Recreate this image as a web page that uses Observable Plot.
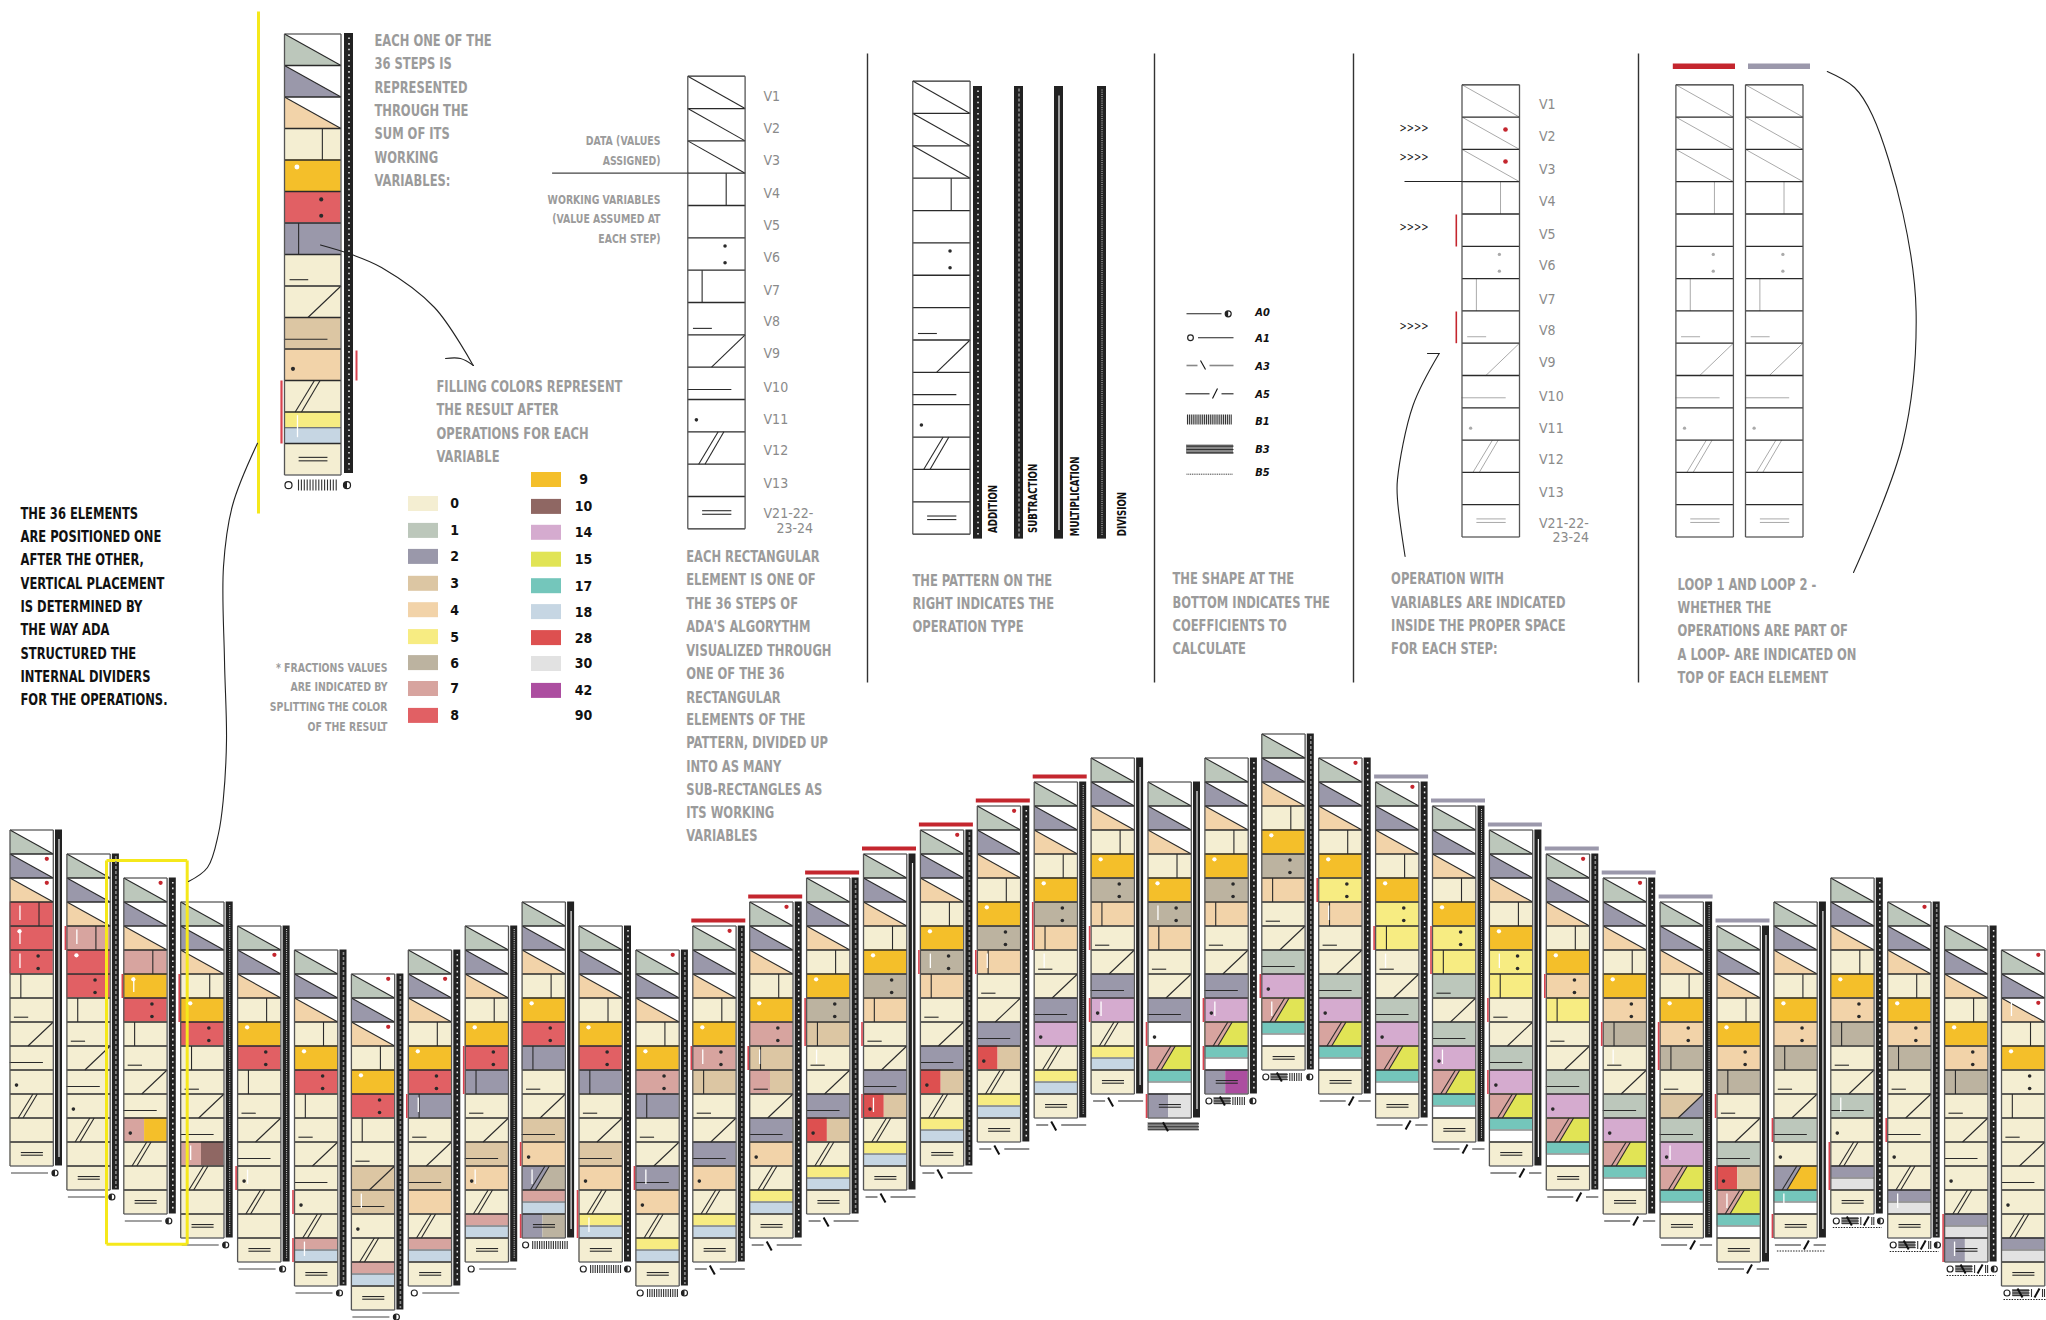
<!DOCTYPE html>
<html><head><meta charset="utf-8">
<script src="https://cdn.jsdelivr.net/npm/d3@7"></script>
<script src="https://cdn.jsdelivr.net/npm/@observablehq/plot@0.6"></script>
<style>html,body{margin:0;padding:0;background:#fff}svg{display:block}</style>
</head><body><div id="chart"></div>
<script>
// ---------- data ----------
const palette = {0:"#f4eed2",1:"#bcc7bb",2:"#9a98aa",3:"#dcc6a3",4:"#f2d3a9",5:"#f7ec82",6:"#bcb3a0",7:"#d7a49f",8:"#e16064",9:"#f4bf2a",10:"#8f6763",14:"#d5abcf",15:"#e1e455",17:"#74c6bb",18:"#c6d6e3",28:"#dd5050",30:"#e2e2e2",42:"#ac4ea0",90:"#ffffff"};
const rowOffset = [0,1,2,3,4,5,6,5,4,3,4,5,4,3,2,1,0,-1,-2,-3,-2,-3,-4,-3,-2,-1,0,1,2,3,4,3,2,3,4,5];
const T=[7,18],Y=[5,18],C=[17,90],P=[7,15],G=[2,30],R=[28,3];
const stepValues = [
[1,2,4,8,8,8,0,0,0,0,0,0,0,0],
[1,2,4,7,8,8,0,0,0,0,0,0,0,0],
[1,2,4,7,9,8,0,0,0,0,[7,9],0,0,0],
[1,2,4,0,9,8,0,0,0,0,[7,10],0,0,0],
[1,2,4,0,9,8,0,0,0,0,0,0,0,0],
[1,2,4,0,9,8,0,0,0,0,0,0,T,0],
[1,2,4,0,9,8,0,0,3,3,0,0,T,0],
[1,2,4,0,9,8,2,0,0,3,4,0,T,0],
[1,2,4,0,9,8,2,0,0,3,4,0,T,0],
[1,2,4,0,9,8,2,0,0,3,4,[2,6],T,[2,6]],
[1,2,4,0,9,8,2,0,0,3,4,0,Y,0],
[1,2,4,0,9,7,2,0,0,2,4,0,Y,0],
[1,2,4,0,9,7,3,0,0,2,4,0,Y,0],
[1,2,4,0,9,7,3,[7,3],0,2,4,0,Y,0],
[1,2,4,0,9,6,3,0,0,2,R,0,Y,0],
[1,2,4,0,9,6,4,0,0,2,R,0,Y,0],
[1,2,4,0,9,6,4,0,0,2,R,0,Y,0],
[1,2,4,0,9,6,4,0,0,2,R,0,Y,0],
[1,2,4,0,9,6,4,0,0,2,14,0,Y,0],
[1,2,4,0,9,6,4,0,0,2,14,0,Y,0],
[1,2,4,0,9,6,4,0,0,2,90,P,C,G],
[1,2,4,0,9,6,4,0,0,2,14,P,C,[2,42]],
[1,2,4,0,9,6,4,0,0,1,14,P,C,0],
[1,2,4,0,9,5,4,0,0,1,14,P,C,0],
[1,2,4,0,9,5,5,0,0,1,14,P,C,0],
[1,2,4,0,9,5,5,1,0,1,14,P,C,0],
[1,2,4,0,9,5,5,0,0,1,14,P,C,0],
[1,2,4,0,9,4,5,0,0,1,14,P,C,0],
[1,2,4,0,9,4,6,0,0,1,14,P,C,0],
[1,2,4,0,9,4,6,0,[3,2],1,14,P,C,0],
[1,2,4,0,9,4,6,0,0,1,R,P,C,0],
[1,2,4,0,9,4,6,0,0,1,0,[2,9],C,0],
[1,2,4,0,9,4,6,0,0,1,0,0,G,0],
[1,2,4,0,9,4,6,0,0,0,0,0,G,0],
[1,2,4,0,9,4,6,0,0,0,0,0,G,G],
[1,2,4,0,9,0,0,0,0,0,0,0,G,0]];
const operations = ["mul","sub","add","div","div","sub","sub","add","div","mul","add","sub","sub","add","sub","mul","sub","add","div","mul","mul","add","sub","add","add","div","mul","sub","add","div","mul","mul","add","sub","add","add"];
const coefficients = ["A0","A0","A0","A0","A0","A0","A0","A1","A1","A1B1","A1B1A0","A1B1A0","A3","A3","A3","A3","A3","A3","A3","A3","B3A3","ALL1","ALL1","A5","A5","A5","A5","A5","A5","A5","A5","A5B5","ALL2","ALL2","ALL2","ALL2"];
const redDotRows = {0:[1,2],2:[0],4:[1],6:[0,2],7:[1],11:[0],12:[0],13:[0],16:[0],17:[0],23:[0],24:[0],27:[0],28:[0],33:[0],35:[0,2]};
const whiteTickRows = {0:[3,4,5],1:[3],2:[4],3:[10],4:[10],5:[12],6:[9],7:[6],8:[10],9:[11],10:[12],11:[9],12:[5],13:[6],14:[7],15:[10],16:[5],17:[6],18:[7],19:[10],20:[5],21:[10],22:[11],23:[6],24:[7],25:[10],26:[5],28:[7],29:[10],30:[11],31:[12],32:[9],33:[12],34:[13],35:[2]};
const redMarkRows = {1:[3],2:[4],3:[3,4],4:[10],5:[10,12],7:[6],8:[5,6],9:[10,13],10:[11,12],11:[9],12:[5],13:[6],14:[5,6],15:[7,10],16:[5],17:[6],18:[5,6],19:[7,10],20:[10,13],21:[10,12],22:[10],23:[5],24:[6],25:[5,6],26:[7,10],27:[5],28:[6],29:[5,6],30:[7,10],31:[9,13],32:[11,12],33:[9],34:[12,13]};
const noLowDot = [3,7];
const loopOne = [12,13,14,15,16,17,18];
const loopTwo = [24,25,26,27,28,29,30];
const legendLeft = [0,1,2,3,4,5,6,7,8];
const legendRight = [9,10,14,15,17,18,28,30,42];
const variableLabels = ["V1","V2","V3","V4","V5","V6","V7","V8","V9","V10","V11","V12","V13","V21-22-"];
const coefLabels = ["A0","A1","A3","A5","B1","B3","B5"];

// ---------- text ----------
const textEach = ["EACH ONE OF THE","36 STEPS IS","REPRESENTED","THROUGH THE","SUM OF ITS","WORKING","VARIABLES:"];
const textFilling = ["FILLING COLORS REPRESENT","THE RESULT AFTER","OPERATIONS FOR EACH","VARIABLE"];
const textElements = ["THE 36 ELEMENTS","ARE POSITIONED ONE","AFTER THE OTHER,","VERTICAL PLACEMENT","IS DETERMINED BY","THE WAY ADA","STRUCTURED THE","INTERNAL DIVIDERS","FOR THE OPERATIONS."];
const textFractions = ["* FRACTIONS VALUES","ARE INDICATED BY","SPLITTING THE COLOR","OF THE RESULT"];
const textData = ["DATA (VALUES","ASSIGNED)"];
const textWorking = ["WORKING VARIABLES","(VALUE ASSUMED AT","EACH STEP)"];
const textRect = ["EACH RECTANGULAR","ELEMENT IS ONE OF","THE 36 STEPS OF","ADA'S ALGORYTHM","VISUALIZED THROUGH","ONE OF THE 36","RECTANGULAR","ELEMENTS OF THE","PATTERN, DIVIDED UP","INTO AS MANY","SUB-RECTANGLES AS","ITS WORKING","VARIABLES"];
const textPattern = ["THE PATTERN ON THE","RIGHT INDICATES THE","OPERATION TYPE"];
const textShape = ["THE SHAPE AT THE","BOTTOM INDICATES THE","COEFFICIENTS TO","CALCULATE"];
const textOperation = ["OPERATION WITH","VARIABLES ARE INDICATED","INSIDE THE PROPER SPACE","FOR EACH STEP:"];
const textLoop = ["LOOP 1 AND LOOP 2 -","WHETHER THE","OPERATIONS ARE PART OF","A LOOP- ARE INDICATED ON","TOP OF EACH ELEMENT"];
const opLabels = ["ADDITION","SUBTRACTION","MULTIPLICATION","DIVISION"];

// ---------- layout collections ----------
const rects=[],polys=[],links=[],dots=[],rings=[],halves=[];
let pid=0;
const rect=(x1,y1,x2,y2,fill)=>rects.push({x1,y1,x2,y2,fill});
const poly=(pts,fill)=>{pid++;pts.forEach(p=>polys.push({x:p[0],y:p[1],id:pid,fill}));};
const line=(x1,y1,x2,y2,stroke="#222",sw=1.1,dash="none")=>links.push({x1,y1,x2,y2,stroke,sw,dash});
const dot=(x,y,fill,r)=>dots.push({x,y,fill,r});

function element(x,top,w,h,vals,o={}){
  const ink=o.ink||"#2a2a2a", sw=o.sw||1.1, skip=o.skip||[], dr=o.dotR||w/30;
  const X=f=>x+f*w;
  vals.forEach((v,r)=>{
    const y=top+r*h, Yf=f=>y+f*h;
    if(Array.isArray(v)){
      const [a,b]=v;
      if(r===12){rect(x,y,x+w,y+h/2,palette[a]);rect(x,y+h/2,x+w,y+h,palette[b]);line(x,y+h/2,x+w,y+h/2,"#555",1);}
      else if(r===11){rect(x,y,x+w,y+h,palette[b]);poly([[x,y],[X(.63),y],[X(.3),y+h],[x,y+h]],palette[a]);}
      else if(r===8){rect(x,y,x+w,y+h,palette[b]);poly([[x,y],[x+w,y],[X(.415),y+h],[x,y+h]],palette[a]);}
      else {rect(x,y,X(.48),y+h,palette[a]);rect(X(.48),y,x+w,y+h,palette[b]);}
    } else if(r<3){
      rect(x,y,x+w,y+h,"#fff");
      poly([[x,y],[x+w,y+h],[x,y+h]],palette[v]);
    } else rect(x,y,x+w,y+h,palette[v]);
    if(skip.includes(r)) return;
    if(r<3) line(x,y,x+w,y+h,ink,sw);
    if(r===3) line(X(.67),y,X(.67),y+h,ink,sw);
    if(r===4&&o.dots!==false) dot(X(.22),Yf(.22),"#fff",w/21);
    if(r===5){dot(X(.65),Yf(.25),ink,dr);dot(X(.65),Yf(.77),ink,dr);}
    if(r===6) line(X(.25),y,X(.25),y+h,ink,sw);
    if(r===7) line(X(.09),Yf(.8),X(.42),Yf(.8),ink,sw);
    if(r===8) line(X(.415),y+h,x+w,y,ink,sw);
    if(r===9) line(X(-.01),Yf(.69),X(.76),Yf(.69),ink,sw);
    if(r===10&&!o.noLow) dot(X(.15),Yf(.63),ink,dr);
    if(r===11){line(X(.19),y+h,X(.53),y,ink,sw);line(X(.3),y+h,X(.63),y,ink,sw);}
    if(r===13){line(X(.25),Yf(.44),X(.76),Yf(.44),ink,sw);line(X(.25),Yf(.55),X(.76),Yf(.55),ink,sw);}
  });
  const bottom=top+vals.length*h;
  for(let r=0;r<=vals.length;r++) line(x,top+r*h,x+w,top+r*h,"#2a2a2a",r===0||r===vals.length?1.2:1.3);
  line(x,top,x,bottom,"#555",1.3);line(x+w,top,x+w,bottom,"#555",1.3);
}
function opBar(x1,x2,y1,y2,op){
  rect(x1,y1,x2,y2,"#222");
  const c=(x1+x2)/2;
  if(op==="add") line(c,y1+4,c,y2-4,"#eee",1.5,"1.6,4");
  if(op==="sub") line(c,y1+2,c,y2-2,"#8a8a8a",1.6,"3,2");
  if(op==="mul") line(c,y1+9,c,y2-9,"#eee",1.2);
  if(op==="div") line(c,y1+3,c,y2-3,"#ddd",1,"1,1.2");
}
const halfCircle=(x,y,r=4)=>{rings.push({x,y,r});halves.push({x,y,r});};
function stripes(x1,x2,y1,y2,step=2.3){for(let x=x1;x<=x2;x+=step) line(x,y1,x,y2,"#333",1.1);}
function thick(x1,x2,y,h=8){rect(x1,y-h/2,x2,y+h/2,"#888");[-3,0,3].forEach(d=>line(x1,y+d*h/8,x2,y+d*h/8,"#333",1.1));}
const slashBack=(a,y)=>line(a,y-4.5,a+5,y+4.5,"#111",2);
const slashFwd=(a,y)=>line(a+5,y-4.5,a,y+4.5,"#111",2);
function coefficient(x,b,c){
  const y=b+7;
  const has=s=>c===s;
  if(has("A0")){line(x+1,y,x+38,y,"#444",1.2);halfCircle(x+45,y);}
  if(has("A1")){rings.push({x:x+6,y,r:4});line(x+14,y,x+51,y,"#444",1.2);}
  if(has("A1B1")){rings.push({x:x+3.5,y,r:4});stripes(x+10.6,x+46,y-4,y+4);}
  if(has("A1B1A0")){rings.push({x:x+4.3,y,r:4});stripes(x+11.6,x+42.3,y-4,y+4);halfCircle(x+48.6,y);}
  if(has("A3")){line(x+2,y,x+14,y,"#444",1.2);slashBack(x+17,y+1);line(x+27,y,x+52,y,"#444",1.2);}
  if(has("B3A3")){thick(x,x+51,b+8.7,8);slashBack(x+15,b+8.7);}
  if(has("ALL1")){rings.push({x:x+4,y,r:4});thick(x+9,x+26,y,7);slashBack(x+15,y);stripes(x+28,x+41,y-4,y+4);halfCircle(x+48,y);}
  if(has("A5")||has("A5B5")){line(x+1,y,x+27,y,"#444",1.2);slashFwd(x+30,y);line(x+39.7,y,x+52,y,"#444",1.2);}
  if(has("A5B5")) line(x+3,b+13,x+51,b+13,"#222",1,"1.5,1.2");
  if(has("ALL2")){rings.push({x:x+5.5,y,r:4});thick(x+11,x+28,y,7);slashBack(x+16,y);line(x+30,y-4,x+30,y+4,"#333",1.1);slashFwd(x+33,y);line(x+41,y-4,x+41,y+4,"#333",1.1);line(x+43,y-4,x+43,y+4,"#333",1.1);halfCircle(x+49.7,y);line(x+2,y+6.5,x+51,y+6.5,"#222",1,"1.5,1.2");}
}

// ---------- main pattern ----------
const colX=i=>9.5+56.9*i, colTop=i=>829.5+24*rowOffset[i], W=43.3, H=24;
stepValues.forEach((vals,i)=>{
  const x=colX(i), top=colTop(i), bottom=top+14*H;
  element(x,top,W,H,vals,{noLow:noLowDot.includes(i)});
  opBar(x+45.5,x+52.5,top,bottom,operations[i]);
  coefficient(x,bottom,coefficients[i]);
  (redDotRows[i]||[]).forEach(r=>dot(x+.85*W,top+(r+.2)*H,"#c4262e",2));
  (whiteTickRows[i]||[]).forEach(r=>line(x+.23*W,top+(r+.15)*H,x+.23*W,top+(r+.75)*H,"#fff",1.3));
  (redMarkRows[i]||[]).forEach(r=>line(x-1.5,top+r*H,x-1.5,top+(r+1)*H,"#d9434f",1.6));
});
loopOne.forEach(i=>rect(colX(i)-1,colTop(i)-7,colX(i)+53,colTop(i)-3,"#c4262e"));
loopTwo.forEach(i=>rect(colX(i)-1,colTop(i)-7,colX(i)+53,colTop(i)-3,"#9b98ab"));

// ---------- top featured element ----------
const fx=284,fy=33.5,fw=56.5,fh=31.5;
element(fx,fy,fw,fh,stepValues[10],{});
opBar(344,353,33,473,"add");
[11,12].forEach(r=>line(281,fy+r*fh,281,fy+(r+1)*fh,"#d9434f",2.2));
line(356,350,356,380,"#d9434f",2);
line(fx+.23*fw,fy+12.1*fh,fx+.23*fw,fy+12.8*fh,"#fff",1.3);
rings.push({x:288,y:484.7,r:5.5});stripes(298,338,479,490,2.9);halfCircle(346.5,484.7,5.5);

// ---------- white diagrams ----------
const blank=Array(14).fill(90);
element(687.3,75.7,57.3,32.33,blank,{dots:false,dotR:1.4});
element(912.3,80.6,57.3,32.36,blank,{dots:false,skip:[6],dotR:1.4});
["add","sub","mul","div"].forEach((op,i)=>opBar([973,1014,1054,1097][i],[982,1023,1063,1106][i],86,538.6,op));
[1461.5,1675.4,1745].forEach(x=>element(x,84.3,57.5,32.3,blank,{dots:false,ink:"#aaa",sw:1,dotR:1.2}));
line(1455.8,214,1455.8,246,"#c4262e",1.6);line(1455.8,311,1455.8,342.7,"#c4262e",1.6);
dot(1505,129,"#c4262e",2.4);dot(1505,161,"#c4262e",2.4);
rect(1672.8,63.5,1735,69,"#c4262e");rect(1748,63.5,1810,69,"#9b98ab");
// leader lines
line(551.6,172.6,688,172.6,"#444",1.2);
line(1404,181,1462,181,"#222",1.1);
// separators
[867,1154,1353,1638].forEach(x=>line(x,53,x,682,"#333",1.4));
line(258,11,258,513,"#f5e81b",3);
[[106,860,186.7,860],[186.7,860,186.7,1243.7],[186.7,1243.7,106,1243.7],[106,1243.7,106,860]].forEach(a=>line(a[0],a[1],a[2],a[3],"#f5e81b",3));

// ---------- coefficient legend ----------
line(1186,313.3,1221,313.3,"#222",1.1);halfCircle(1227.7,313.3,4);
rings.push({x:1190,y:337.3,r:3.6});line(1197.5,337.3,1233,337.3,"#222",1.1);
line(1186,365,1197,365,"#888",1.6);line(1200,360,1205,369,"#111",1.1);line(1209,365,1233,365,"#888",1.6);
line(1185,393.3,1209,393.3,"#222",1.1);line(1217,388,1212,398,"#111",1.1);line(1221,393.3,1233,393.3,"#222",1.1);
stripes(1187,1232,414,424,1.9);
thick(1186,1233,449,9);
line(1186,473.7,1232,473.7,"#333",1,"1,.8");

// ---------- curves ----------
const curves=[
 {pts:[[320,244.5],[351,254],[381,267],[434,307],[472.7,365]]},
 {pts:[[445,358],[460,358],[473,365]],},
 {pts:[[257,442.7],[232,505],[223,566],[224,660],[226,740],[222.7,800],[218,833],[207,867],[188,881]]},
 {pts:[[1427,353],[1438.7,353]]},
 {pts:[[1438.7,353],[1412.5,405],[1397,478.6],[1397,499],[1404.6,556]]},
 {pts:[[1826.8,71],[1854,87],[1872,115],[1902.4,213],[1915.6,311],[1902.4,442],[1853,572]]}
].flatMap((c,i)=>c.pts.map(p=>({x:p[0],y:p[1],id:i})));

// ---------- text rows ----------
const block=(lines,x,ys)=>lines.map((text,i)=>({text,x,y:ys[i]}));
const greyLarge=[
 ...block(textEach,374,[40,63.7,87,110.4,133.6,157,180]),
 ...block(textFilling,436,[386,409,433,456]),
 ...block(textRect,685.7,[556,579,603,626,650,673,697,719,742.6,766,789.5,812,835]),
 ...block(textPattern,912,[580,603.5,626]),
 ...block(textShape,1172,[578,602,625.5,648]),
 ...block(textOperation,1390.6,[578.6,602,625.5,648]),
 ...block(textLoop,1677,[584.7,607,630,654,677])];
const greySmall=[
 ...block(textFractions,387,[667,686,706,726]),
 ...block(textData,660,[140.6,160.5]),
 ...block(textWorking,660,[199,218,238])];
const blackText=block(textElements,20,[513.4,536,559,583,606,629,653,676,699]);
const labelY1=[95.7,127.6,160,193,225,257,290,320.6,353,387,419.4,450,483.5,513];
const labelY2=[104,136.5,169,201.4,234,265.5,299,330,362,395.7,428,459,492,523.5];
const varText=[...variableLabels.map((text,i)=>({text,x:763,y:labelY1[i]})),{text:"23-24",x:776,y:527.6},
 ...variableLabels.map((text,i)=>({text,x:1538.5,y:labelY2[i]})),{text:"23-24",x:1552,y:536.6}];
const swatchY1=[503.5,530.4,556.4,583.3,609.7,636.6,662.6,688.5,715.4];
const swatchY2=[479.5,506.4,532.3,559.2,585.7,611.6,637.6,663.5,690.4];
legendLeft.forEach((v,i)=>rect(408,swatchY1[i]-7.5,438,swatchY1[i]+7.5,palette[v]));
legendRight.forEach((v,i)=>rect(531,swatchY2[i]-7.5,561,swatchY2[i]+7.5,palette[v]));
const legendText=[...legendLeft.map((v,i)=>({text:String(v),x:454,y:swatchY1[i]})),...legendRight.map((v,i)=>({text:String(v),x:583,y:swatchY2[i]})),{text:"90",x:583,y:715.4}];
const coefY=[312,338,366,394,421,449,472];
const coefText=coefLabels.map((text,i)=>({text,x:1262,y:coefY[i]}));
const opText=opLabels.map((text,i)=>({text,x:[993,1032.5,1074.4,1122][i],y:[532.4,532.4,535.7,535.7][i]}));
const chevrons=[127.5,157,226.7,326].map(y=>({text:">>>>",x:1413.5,y}));

// half-disc symbol
const halfSymbol={draw(ctx,size){const r=Math.sqrt(size/Math.PI);ctx.moveTo(0,-r);ctx.arc(0,0,r,-Math.PI/2,Math.PI/2,true);ctx.closePath();}};

const FONT="'DejaVu Sans Condensed',Lato,sans-serif";
const t=(data,o)=>Plot.text(data,{x:"x",y:"y",text:"text",lineAnchor:"middle",fontFamily:FONT,...o});
const linkMarks=d3.groups(links,d=>d.dash).map(([dash,data])=>Plot.link(data,{x1:"x1",y1:"y1",x2:"x2",y2:"y2",stroke:"stroke",strokeWidth:"sw",strokeDasharray:dash==="none"?undefined:dash}));

const plot=Plot.plot({
  width:2046,height:1320,margin:0,
  x:{domain:[0,2046],range:[0,2046],axis:null},
  y:{domain:[0,1320],range:[0,1320],axis:null},
  color:{type:"identity"},
  marks:[
    Plot.rect(rects,{x1:"x1",y1:"y1",x2:"x2",y2:"y2",fill:"fill"}),
    Plot.line(polys,{x:"x",y:"y",z:"id",fill:"fill",stroke:"none"}),
    ...linkMarks,
    Plot.dot(dots,{x:"x",y:"y",r:"r",fill:"fill"}),
    Plot.dot(rings,{x:"x",y:"y",r:"r",fill:"#fff",stroke:"#222",strokeWidth:1.2}),
    Plot.dot(halves,{x:"x",y:"y",r:"r",fill:"#222",symbol:halfSymbol}),
    Plot.line(curves,{x:"x",y:"y",z:"id",stroke:"#222",strokeWidth:1.1,curve:"catmull-rom"}),
    t(greyLarge,{textAnchor:"start",fill:"#9b9b9b",fontSize:16,fontWeight:700,className:"squeeze"}),
    t(greySmall,{textAnchor:"end",fill:"#9b9b9b",fontSize:13,fontWeight:700,className:"squeeze"}),
    t(blackText,{textAnchor:"start",fill:"#111",fontSize:16,fontWeight:700,className:"squeeze"}),
    t(varText,{textAnchor:"start",fill:"#8a8a8a",fontSize:14}),
    t(legendText,{textAnchor:"middle",fill:"#111",fontSize:14,fontWeight:700}),
    t(coefText,{textAnchor:"middle",fill:"#111",fontSize:11,fontWeight:700,fontStyle:"italic"}),
    t(opText,{textAnchor:"start",fill:"#111",fontSize:12,fontWeight:700,rotate:-90,className:"squeeze"}),
    t(chevrons,{textAnchor:"middle",fill:"#222",fontSize:12,className:"squeeze"})
  ]
});
document.getElementById("chart").appendChild(plot);
// the reference lettering is a narrow hand: keep the cap height, narrow the run
plot.querySelectorAll("g.squeeze text, .squeeze text").forEach(el=>{
  el.setAttribute("textLength",(el.getComputedTextLength()*.8).toFixed(1));
  el.setAttribute("lengthAdjust","spacingAndGlyphs");
});
</script></body></html>
